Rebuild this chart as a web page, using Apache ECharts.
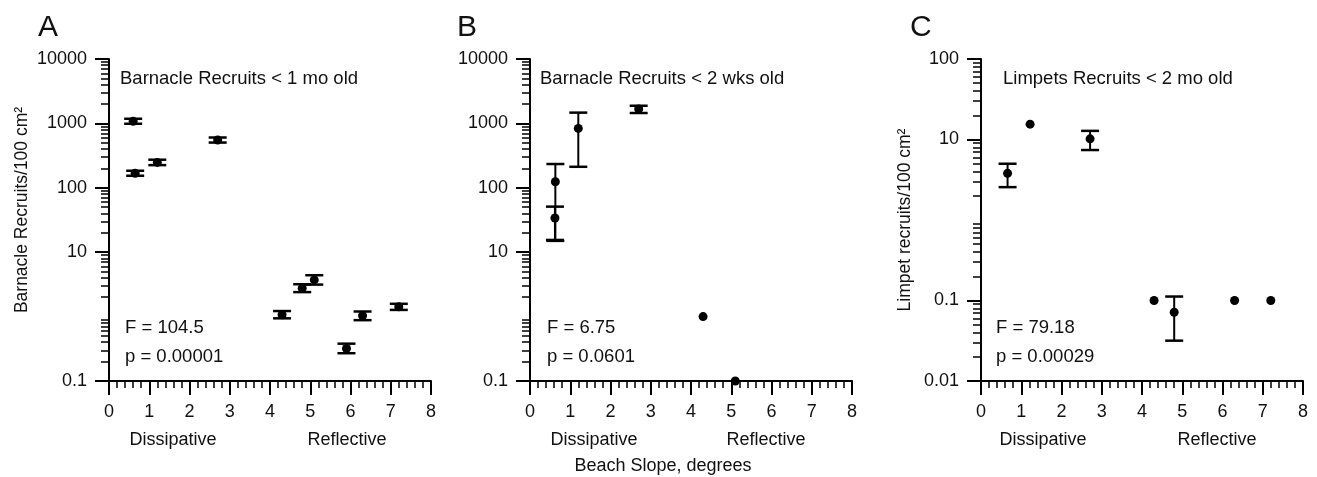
<!DOCTYPE html>
<html>
<head>
<meta charset="utf-8">
<script src="https://cdn.jsdelivr.net/npm/echarts@6/dist/echarts.min.js"></script>
<style>
html,body{margin:0;padding:0;background:#fff;}
#chart{width:1317px;height:477px;}
</style>
</head>
<body>
<div id="chart"></div>
<script>
// ---------- DATA ----------
// Panel A: Barnacle Recruits < 1 mo old
const aSlope = [0.6, 0.65, 1.2, 2.7, 4.3, 4.8, 5.1, 5.9, 6.3, 7.2];
const aMean  = [1080, 168, 248, 552, 1.07, 2.76, 3.71, 0.32, 1.03, 1.42];
const aLow   = [987, 154, 225, 504, 0.94, 2.40, 3.14, 0.27, 0.88, 1.27];
const aHigh  = [1181, 184, 273, 604, 1.22, 3.18, 4.39, 0.38, 1.20, 1.58];

// Panel B: Barnacle Recruits < 2 wks old
const bSlope = [0.63, 0.62, 1.2, 2.7, 4.3, 5.1];
const bMean  = [124, 34, 836, 1675, 1.0, 0.1];
const bLow   = [15, 15.5, 212, 1450, null, null];
const bHigh  = [234, 51, 1470, 1880, null, null];

// Panel C: Limpets Recruits < 2 mo old
const cSlope = [0.66, 1.22, 2.71, 4.3, 4.8, 6.3, 7.2];
const cMean  = [3.8, 15.5, 10.2, 0.1, 0.0715, 0.1, 0.1];
const cLow   = [2.56, null, 7.4, null, 0.0317, null, null];
const cHigh  = [5.0, null, 12.8, null, 0.112, null, null];

// Tick labels
const yLabelsAB = [0.1, 10, 100, 1000, 10000];
const yLabelsC  = [0.01, 0.1, 10, 100];
const panelTitles = ['Barnacle Recruits < 1 mo old', 'Barnacle Recruits < 2 wks old', 'Limpets Recruits < 2 mo old'];
const statF = ['F = 104.5', 'F = 6.75', 'F = 79.18'];
const statP = ['p = 0.00001', 'p = 0.0601', 'p = 0.00029'];
const panelLetters = ['A', 'B', 'C'];
const groupLabels = ['Dissipative', 'Reflective'];
const xTitle = 'Beach Slope, degrees';
const yTitles = ['Barnacle Recruits/100 cm\u00B2', null, 'Limpet recruits/100 cm\u00B2'];

// ---------- LAYOUT ----------
const FONT = '"Liberation Sans", Arial, Helvetica, sans-serif';
const TXT = '#111';
const gridLefts = [109, 530, 981];
const GT = 59, GW = 322, GH = 322;

function minorTicks(minExp, maxExp) {
  const out = [];
  for (let e = minExp; e < maxExp; e++) {
    for (let k = 2; k <= 9; k++) out.push(+(k * Math.pow(10, e)).toPrecision(6));
  }
  return out;
}
function majorTicks(minExp, maxExp) {
  const out = [];
  for (let e = minExp; e <= maxExp; e++) if (e !== 0) out.push(+Math.pow(10, e).toPrecision(6));
  return out;
}

const grids = gridLefts.map(l => ({left: l, top: GT, width: GW, height: GH, containLabel: false}));

const xAxes = gridLefts.map((l, i) => ({
  type: 'value', gridIndex: i, min: 0, max: 8, interval: 1,
  axisLine: {show: true, onZero: false, lineStyle: {color: '#000', width: 2}},
  axisTick: {show: true, length: 14, lineStyle: {color: '#000', width: 2}},
  minorTick: {show: true, splitNumber: 5, length: 7, lineStyle: {color: '#000', width: 1.5}},
  splitLine: {show: false}, minorSplitLine: {show: false},
  axisLabel: {fontSize: 18, color: TXT, margin: 22, fontFamily: FONT}
}));

const yAxes = [];
[0, 1, 2].forEach(i => {
  const isC = i === 2;
  const min = isC ? 0.01 : 0.1, max = isC ? 100 : 10000;
  const minE = isC ? -2 : -1, maxE = isC ? 2 : 4;
  const labels = isC ? yLabelsC : yLabelsAB;
  yAxes.push({
    type: 'log', logBase: 10, gridIndex: i, min: min, max: max, position: 'left',
    name: yTitles[i] || '', nameLocation: 'middle', nameGap: isC ? 67 : 78,
    nameTextStyle: {fontSize: 17.5, color: TXT, fontFamily: FONT, padding: isC ? 0 : [0, 0, 0, 20]},
    axisLine: {show: true, onZero: false, lineStyle: {color: '#000', width: 2}},
    axisTick: {show: true, length: 14, customValues: majorTicks(minE, maxE), lineStyle: {color: '#000', width: 2}},
    axisLabel: {show: true, customValues: labels, fontSize: 18, color: TXT, margin: 22, fontFamily: FONT,
      formatter: v => String(+(+v).toPrecision(6))},
    splitLine: {show: false}
  });
  yAxes.push({
    type: 'log', logBase: 10, gridIndex: i, min: min, max: max, position: 'left',
    axisLine: {show: false},
    axisTick: {show: true, length: 8, customValues: minorTicks(minE, maxE), lineStyle: {color: '#000', width: 1.5}},
    axisLabel: {show: false},
    splitLine: {show: false}
  });
});

function renderErr(params, api) {
  const x = api.value(0), lo = api.value(1), hi = api.value(2);
  const a = api.coord([x, hi]), b = api.coord([x, lo]);
  const w = 9;
  const cap = {stroke: '#000', lineWidth: 2.5};
  return {type: 'group', children: [
    {type: 'line', shape: {x1: a[0], y1: a[1], x2: b[0], y2: b[1]}, style: {stroke: '#000', lineWidth: 2}},
    {type: 'line', shape: {x1: a[0] - w, y1: a[1], x2: a[0] + w, y2: a[1]}, style: cap},
    {type: 'line', shape: {x1: b[0] - w, y1: b[1], x2: b[0] + w, y2: b[1]}, style: cap}
  ]};
}

const panels = [[aSlope, aMean, aLow, aHigh], [bSlope, bMean, bLow, bHigh], [cSlope, cMean, cLow, cHigh]];
const series = [];
panels.forEach((p, i) => {
  const [xs, ys, lo, hi] = p;
  const errData = [];
  xs.forEach((x, j) => { if (lo[j] != null) errData.push([x, lo[j], hi[j]]); });
  series.push({
    type: 'custom', xAxisIndex: i, yAxisIndex: i * 2, renderItem: renderErr,
    data: errData, encode: {x: 0, y: [1, 2]}, silent: true, z: 2, clip: false
  });
  series.push({
    type: 'scatter', xAxisIndex: i, yAxisIndex: i * 2, symbol: 'circle', symbolSize: 9,
    itemStyle: {color: '#000', opacity: 1}, data: xs.map((x, j) => [x, ys[j]]), z: 3, clip: false
  });
});

// ---------- ANNOTATIONS ----------
const graphic = [];
const letterX = [38, 457, 910];
const titleX = [120, 540, 1003];
const statX = [125, 547, 996];
const dissX = [173, 594, 1043];
const reflX = [347, 766, 1217];
for (let i = 0; i < 3; i++) {
  graphic.push({type: 'text', left: letterX[i], top: 13, style: {text: panelLetters[i], font: '30px ' + FONT, fill: TXT}});
  graphic.push({type: 'text', x: titleX[i], y: 79, style: {text: panelTitles[i], font: '18.5px ' + FONT, fill: TXT, verticalAlign: 'middle'}});
  graphic.push({type: 'text', x: statX[i], y: 328, style: {text: statF[i], font: '18.5px ' + FONT, fill: TXT, verticalAlign: 'middle'}});
  graphic.push({type: 'text', x: statX[i], y: 356.5, style: {text: statP[i], font: '18.5px ' + FONT, fill: TXT, verticalAlign: 'middle'}});
  graphic.push({type: 'text', x: dissX[i], y: 440.5, style: {text: groupLabels[0], font: '18px ' + FONT, fill: TXT, align: 'center', verticalAlign: 'middle'}});
  graphic.push({type: 'text', x: reflX[i], y: 440.5, style: {text: groupLabels[1], font: '18px ' + FONT, fill: TXT, align: 'center', verticalAlign: 'middle'}});
}
graphic.push({type: 'text', x: 663, y: 466.5, style: {text: xTitle, font: '18px ' + FONT, fill: TXT, align: 'center', verticalAlign: 'middle'}});

const chart = echarts.init(document.getElementById('chart'), null, {renderer: 'canvas'});
chart.setOption({
  backgroundColor: '#fff',
  animation: false,
  grid: grids,
  xAxis: xAxes,
  yAxis: yAxes,
  series: series,
  graphic: graphic
});
</script>
</body>
</html>
